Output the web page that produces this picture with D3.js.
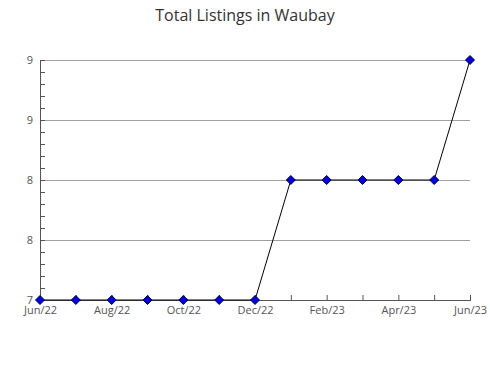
<!DOCTYPE html>
<html>
<head>
<meta charset="utf-8">
<script src="https://cdn.jsdelivr.net/npm/d3@7"></script>
<style>
  body { margin: 0; background: #fff; }
  svg { display: block; font-family: "Open Sans", sans-serif; }
</style>
</head>
<body>
<svg id="chart" width="490" height="380"></svg>
<script>
const months = ["Jun/22","Jul/22","Aug/22","Sep/22","Oct/22","Nov/22","Dec/22","Jan/23","Feb/23","Mar/23","Apr/23","May/23","Jun/23"];
const listings = [7, 7, 7, 7, 7, 7, 7, 8, 8, 8, 8, 8, 9];
const yTickValues = [7, 7.5, 8, 8.5, 9];
const yTickLabels = ["7", "8", "8", "9", "9"];
const xLabelMonths = ["Jun/22","Aug/22","Oct/22","Dec/22","Feb/23","Apr/23","Jun/23"];
const title = "Total Listings in Waubay";

(function () {
const svg = d3.select("#chart");
const mLeft = 40, mRight = 470, mTop = 60, mBottom = 300;

const x = d3.scalePoint().domain(months).range([mLeft, mRight]);
const y = d3.scaleLinear().domain([7, 9]).range([mBottom, mTop]);

// gridlines
svg.append("g").selectAll("line").data(yTickValues.slice(1)).join("line")
  .attr("x1", mLeft).attr("x2", mRight)
  .attr("y1", d => y(d)).attr("y2", d => y(d))
  .attr("stroke", "#a0a0a0").attr("stroke-width", 1).attr("shape-rendering", "crispEdges");

// minor y ticks
const minor = d3.range(7, 9.0001, 0.1);
svg.append("g").selectAll("line").data(minor).join("line")
  .attr("x1", mLeft).attr("x2", mLeft + 5)
  .attr("y1", d => Math.round(y(d)) + 0.5).attr("y2", d => Math.round(y(d)) + 0.5)
  .attr("stroke", "#555");

// y axis
const yAxis = d3.axisLeft(y).tickValues(yTickValues).tickSize(0).tickPadding(7)
  .tickFormat((d, i) => yTickLabels[i]);
const gy = svg.append("g").attr("transform", `translate(${mLeft},0)`).call(yAxis);
gy.select(".domain").attr("stroke", "#555").attr("shape-rendering", "crispEdges");
gy.selectAll("text").attr("fill", "#555").style("font-size", "11px").style("font-family", "Open Sans");

// x axis
const xAxis = d3.axisBottom(x).tickSizeInner(-5).tickSizeOuter(0).tickPadding(8)
  .tickFormat(d => xLabelMonths.includes(d) ? d : "");
const gx = svg.append("g").attr("transform", `translate(0,${mBottom})`).call(xAxis);
gx.select(".domain").attr("stroke", "#555").attr("shape-rendering", "crispEdges");
gx.selectAll(".tick line").attr("stroke", "#555");
gx.selectAll("text").attr("fill", "#555").style("font-size", "11px").style("font-family", "Open Sans").attr("dy", "0.55em");

// line
const line = d3.line().x((d, i) => x(months[i])).y(d => y(d));
svg.append("path").datum(listings).attr("d", line)
  .attr("fill", "none").attr("stroke", "#000").attr("stroke-width", 1);

// markers
svg.append("g").selectAll("path").data(listings).join("path")
  .attr("transform", (d, i) => `translate(${x(months[i])},${y(d)})`)
  .attr("d", "M0,-4.5L4.5,0L0,4.5L-4.5,0Z")
  .attr("fill", "#0000ee").attr("stroke", "#000033").attr("stroke-width", 1);

// title
svg.append("text").attr("x", 245).attr("y", 21).attr("text-anchor", "middle")
  .style("font-size", "16px").style("font-family", "Open Sans").attr("fill", "#333")
  .text(title);
})();
</script>
</body>
</html>
